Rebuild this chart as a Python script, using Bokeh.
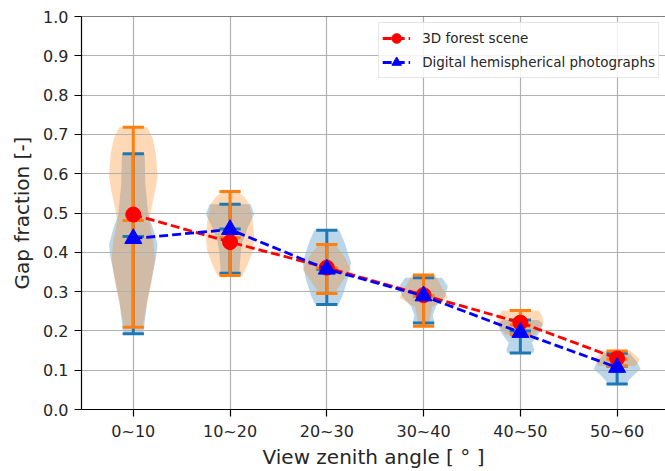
from bokeh.plotting import figure
from bokeh.models import FixedTicker, PrintfTickFormatter, Span, Legend, LegendItem
from bokeh.embed import file_html
from bokeh.resources import INLINE

# view zenith angle classes
positions = [1, 2, 3, 4, 5, 6]
labels = ["0~10", "10~20", "20~30", "30~40", "40~50", "50~60"]

# 3D forest scene (orange violins, red markers)
forest_mean = [0.496, 0.426, 0.361, 0.291, 0.221, 0.130]
forest_min = [0.209, 0.341, 0.295, 0.212, 0.190, 0.111]
forest_max = [0.718, 0.555, 0.420, 0.342, 0.252, 0.149]
forest_median = [0.481, 0.437, 0.360, 0.290, 0.215, 0.128]

# digital hemispherical photographs (blue violins, blue markers)
dhp_mean = [0.435, 0.458, 0.357, 0.289, 0.196, 0.107]
dhp_min = [0.193, 0.347, 0.267, 0.220, 0.144, 0.065]
dhp_max = [0.651, 0.522, 0.456, 0.335, 0.228, 0.143]
dhp_median = [0.440, 0.459, 0.357, 0.289, 0.200, 0.110]

# violin outlines: gap fraction levels and relative half widths
forest_violin_y = [
    [0.209, 0.255, 0.314, 0.382, 0.425, 0.483, 0.527, 0.560, 0.593, 0.653, 0.690, 0.718],
    [0.341, 0.369, 0.403, 0.437, 0.479, 0.522, 0.540, 0.555],
    [0.295, 0.323, 0.357, 0.390, 0.420],
    [0.212, 0.260, 0.285, 0.306, 0.342],
    [0.190, 0.203, 0.221, 0.238, 0.252],
    [0.111, 0.128, 0.149],
]
forest_violin_w = [
    [0.38, 0.52, 0.73, 0.90, 0.83, 0.66, 0.80, 0.92, 1.00, 0.93, 0.80, 0.58],
    [0.52, 0.73, 0.94, 1.00, 0.94, 0.80, 0.60, 0.31],
    [0.31, 0.62, 1.00, 0.72, 0.34],
    [0.20, 0.35, 1.00, 0.80, 0.48],
    [0.62, 0.76, 0.97, 0.90, 0.76],
    [0.76, 0.94, 0.55],
]
dhp_violin_y = [
    [0.193, 0.210, 0.280, 0.345, 0.390, 0.420, 0.455, 0.497, 0.572, 0.651],
    [0.347, 0.403, 0.427, 0.463, 0.496, 0.522],
    [0.267, 0.289, 0.331, 0.374, 0.424, 0.456],
    [0.220, 0.240, 0.263, 0.289, 0.314, 0.335],
    [0.144, 0.152, 0.170, 0.196, 0.217, 0.228],
    [0.065, 0.086, 0.103, 0.120, 0.143],
]
dhp_violin_w = [
    [0.40, 0.45, 0.58, 0.80, 0.95, 1.00, 0.85, 0.62, 0.50, 0.47],
    [0.38, 0.45, 0.52, 0.73, 1.00, 0.85],
    [0.48, 0.65, 0.86, 1.00, 0.74, 0.52],
    [0.45, 0.38, 0.52, 0.90, 1.00, 0.76],
    [0.54, 0.58, 0.48, 0.80, 0.94, 0.76],
    [0.35, 0.66, 0.97, 0.83, 0.52],
]

BLUE = "#1f77b4"
ORANGE = "#ff7f0e"
FONT = "DejaVu Sans"

p = figure(width=665, height=471, x_range=(0.465, 6.50), y_range=(0, 1),
           output_backend="svg", toolbar_location=None,
           min_border_left=81, min_border_right=0, min_border_top=16, min_border_bottom=60)
p.outline_line_color = None
p.add_layout(Span(location=1, dimension="width", line_color="black", line_width=1.2))

p.grid.grid_line_color = "#b0b0b0"
p.grid.grid_line_width = 1.2

p.xaxis.ticker = FixedTicker(ticks=positions)
p.xaxis.major_label_overrides = {pos: lab for pos, lab in zip(positions, labels)}
p.yaxis.ticker = FixedTicker(ticks=[i / 10 for i in range(11)])
p.yaxis.formatter = PrintfTickFormatter(format="%.1f")
p.xaxis.axis_label = "View zenith angle [ \u00b0 ]"
p.yaxis.axis_label = "Gap fraction [-]"
for ax in (p.xaxis, p.yaxis):
    ax.axis_label_text_font = FONT
    ax.axis_label_text_font_size = "20px"
    ax.axis_label_text_font_style = "normal"
    ax.axis_label_text_color = "#262626"
    ax.major_label_text_font = FONT
    ax.major_label_text_font_size = "16px"
    ax.major_label_text_color = "#262626"
    ax.axis_line_color = "black"
    ax.axis_line_width = 1.2
    ax.major_tick_line_color = "black"
    ax.major_tick_line_width = 1.2
    ax.major_tick_out = 7
    ax.major_tick_in = 0
    ax.minor_tick_line_color = None
    ax.major_label_standoff = 6
p.xaxis.major_label_standoff = 5
p.xaxis.axis_label_standoff = 1
p.yaxis.axis_label_standoff = 6


def bodies(vy, vw, color):
    for pos, ys, ws in zip(positions, vy, vw):
        half = [0.25 * w for w in ws]
        p.harea(x1=[pos - h for h in half], x2=[pos + h for h in half], y=ys,
                fill_color=color, fill_alpha=0.3, level="image")


def bars(vmin, vmax, vmed, color):
    cap = 0.11
    p.segment(x0=positions, y0=vmin, x1=positions, y1=vmax, line_color=color, line_width=3)
    for vals in (vmin, vmax, vmed):
        p.segment(x0=[x - cap for x in positions], y0=vals,
                  x1=[x + cap for x in positions], y1=vals,
                  line_color=color, line_width=3)


bodies(dhp_violin_y, dhp_violin_w, BLUE)
bodies(forest_violin_y, forest_violin_w, ORANGE)
bars(dhp_min, dhp_max, dhp_median, BLUE)
bars(forest_min, forest_max, forest_median, ORANGE)

r_line = p.line(positions, forest_mean, line_color="red", line_width=2.8, line_dash="9 4")
r_pts = p.scatter(positions, forest_mean, marker="circle", size=15, fill_color="red", line_color="red")
b_line = p.line(positions, dhp_mean, line_color="blue", line_width=2.8, line_dash="9 4")
b_pts = p.scatter(positions, dhp_mean, marker="triangle", size=17, fill_color="blue", line_color="blue")

legend = Legend(items=[LegendItem(label="3D forest scene", renderers=[r_line, r_pts]),
                       LegendItem(label="Digital hemispherical photographs", renderers=[b_line, b_pts])],
                location="top_right")
legend.label_text_font = FONT
legend.label_text_font_size = "13.5px"
legend.label_text_color = "#262626"
legend.border_line_color = "#cccccc"
legend.background_fill_alpha = 0.85
legend.padding = 3
legend.spacing = -4
legend.margin = 6
legend.glyph_width = 28
legend.glyph_height = 24
legend.label_height = 24
legend.label_standoff = 12
p.add_layout(legend)

open("out.html", "w").write(file_html(p, INLINE))
